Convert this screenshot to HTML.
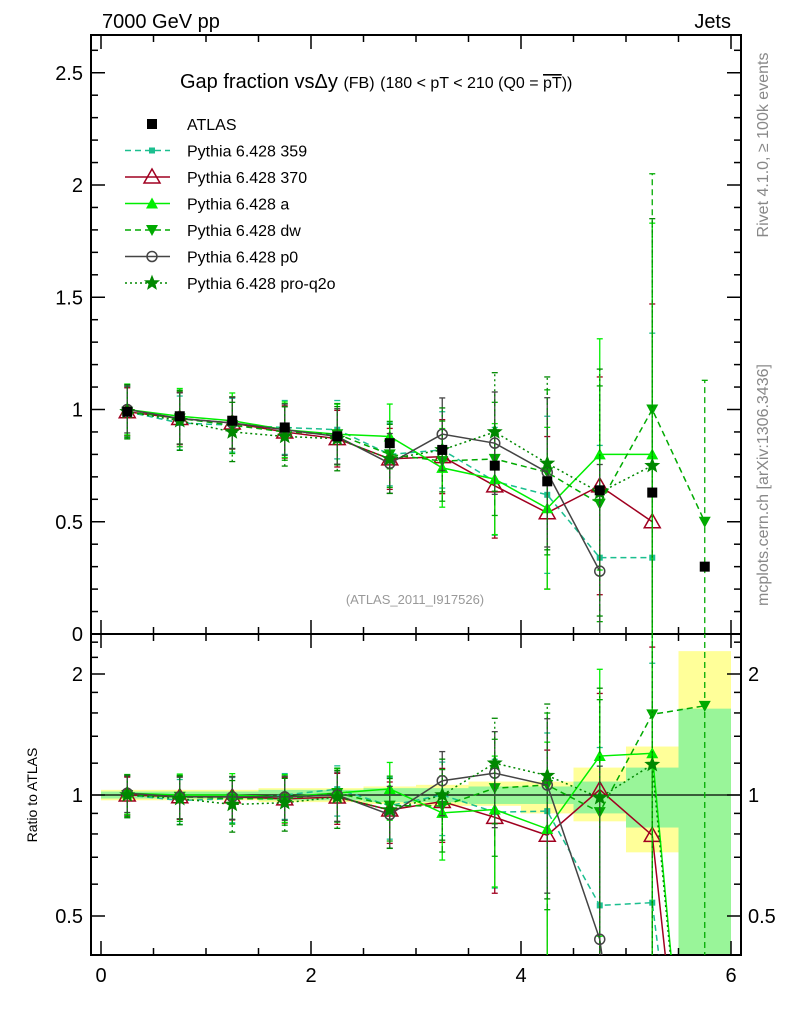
<!DOCTYPE html>
<html><head><meta charset="utf-8"><style>
html,body{margin:0;background:#fff;overflow:hidden;width:786px;height:1024px}
svg{display:block;font-family:"Liberation Sans",sans-serif}
</style></head><body>
<svg id="c" width="786" height="1024" viewBox="0 0 786 1024">
<defs>
<clipPath id="cm"><rect x="91" y="35" width="650" height="599"/></clipPath>
<clipPath id="cr"><rect x="91" y="634" width="650" height="321"/></clipPath>
</defs>
<text x="102" y="28" font-size="20">7000 GeV pp</text>
<text x="731" y="28" font-size="20" text-anchor="end">Jets</text>
<text x="180" y="88" font-size="20">Gap fraction vs<tspan>Δy</tspan> <tspan font-size="16">(FB)</tspan> <tspan font-size="16">(180 &lt; pT &lt; 210 (Q0 = <tspan text-decoration="overline">pT</tspan>))</tspan></text>
<text x="415" y="604" font-size="13" fill="#999" text-anchor="middle">(ATLAS_2011_I917526)</text>
<text transform="translate(768,145) rotate(-90)" font-size="16" fill="#888" text-anchor="middle">Rivet 4.1.0, ≥ 100k events</text>
<text transform="translate(768,485) rotate(-90)" font-size="16" fill="#888" text-anchor="middle">mcplots.cern.ch [arXiv:1306.3436]</text>
<text transform="translate(37,795) rotate(-90)" font-size="14" text-anchor="middle">Ratio to ATLAS</text>
<g id="bands" clip-path="url(#cr)"></g>
<g id="axes"></g>
<g id="main" clip-path="url(#cm)"></g>
<g id="ratio" clip-path="url(#cr)"></g>
<g id="legend"></g>
</svg>
<script>
const xs=[0.25,0.75,1.25,1.75,2.25,2.75,3.25,3.75,4.25,4.75,5.25,5.75];
const atlas=[0.99,0.97,0.95,0.92,0.88,0.85,0.82,0.75,0.68,0.64,0.63,0.30];
const s359=[0.99,0.94,0.93,0.92,0.91,0.80,0.82,0.68,0.62,0.34,0.34,0];
const s370=[0.99,0.96,0.94,0.90,0.87,0.78,0.79,0.66,0.54,0.66,0.50,0];
const sA=[1.0,0.97,0.95,0.91,0.89,0.88,0.74,0.69,0.56,0.80,0.80,0];
const sDW=[0.99,0.96,0.93,0.90,0.89,0.80,0.77,0.78,0.72,0.58,1.00,0.50];
const sP0=[1.0,0.96,0.94,0.91,0.88,0.76,0.89,0.85,0.72,0.28,0,0];
const sPQ=[0.99,0.95,0.90,0.88,0.87,0.78,0.82,0.90,0.76,0.63,0.75,0];
const errs=[0.11,0.12,0.12,0.12,0.13,0.14,0.17,0.24,0.35,0.5,1.0,0.6];
const bandYUp=[0.03,0.03,0.03,0.04,0.04,0.05,0.06,0.08,0.08,0.17,0.32,1.28];
const bandYDn=[0.03,0.03,0.03,0.04,0.04,0.05,0.06,0.06,0.10,0.14,0.28,0.9];
const bandGUp=[0.02,0.02,0.02,0.03,0.03,0.04,0.04,0.05,0.05,0.08,0.17,0.64];
const bandGDn=[0.02,0.02,0.02,0.03,0.03,0.04,0.04,0.05,0.05,0.10,0.17,0.9];
const yTicksMain=[0,0.5,1,1.5,2,2.5];
const yTicksRatio=[0.5,1,2];
const xTicks=[0,2,4,6];

const NS="http://www.w3.org/2000/svg";
const X=v=>101+105*v, YM=v=>634-224.5*v, YR=r=>795-121*Math.log2(r);
function mk(p,t,a){const e=document.createElementNS(NS,t);for(const k in a)e.setAttribute(k,a[k]);p.appendChild(e);return e;}
const ax=document.getElementById('axes'),gm=document.getElementById('main'),gr=document.getElementById('ratio'),gb=document.getElementById('bands'),gl=document.getElementById('legend');

xs.forEach((x,i)=>{
 const yt=YR(1+bandYUp[i]),yb=YR(Math.max(1-bandYDn[i],0.05));
 let r=mk(gb,'rect',{x:X(x-0.25),width:52.5,y:yt,height:yb-yt,fill:'#ffff99'});
 
 
 const gt=YR(1+bandGUp[i]),gbm=YR(Math.max(1-bandGDn[i],0.05));
 let g=mk(gb,'rect',{x:X(x-0.25),width:52.5,y:gt,height:gbm-gt,fill:'#99f599'});
 
 
});
mk(ax,'line',{x1:91,x2:741,y1:YR(1),y2:YR(1),stroke:'#000','stroke-width':1.2});

mk(ax,'rect',{x:91,y:35,width:650,height:599,fill:'none',stroke:'#000','stroke-width':2});
mk(ax,'rect',{x:91,y:634,width:650,height:321,fill:'none',stroke:'#000','stroke-width':2});
for(let v=0;v<=6.01;v+=0.5){const maj=Math.abs(v-Math.round(v/2)*2)<0.01;
 [[634,-1],[955,-1],[634,1]].forEach(([y,d])=>mk(ax,'line',{x1:X(v),x2:X(v),y1:y,y2:y+d*(maj?14:7),stroke:'#000','stroke-width':1.5}));
 mk(ax,'line',{x1:X(v),x2:X(v),y1:35,y2:35+(maj?14:7),stroke:'#000','stroke-width':1.5});}
xTicks.forEach(v=>{const t=mk(ax,'text',{x:X(v),y:982,'font-size':20,'text-anchor':'middle'});t.textContent=v;
 
 });
for(let v=0;v<=2.65;v+=0.1){const maj=Math.abs(v*2-Math.round(v*2))<0.01;
 mk(ax,'line',{x1:91,x2:91+(maj?14:7),y1:YM(v),y2:YM(v),stroke:'#000','stroke-width':1.5});
 mk(ax,'line',{x1:741,x2:741-(maj?14:7),y1:YM(v),y2:YM(v),stroke:'#000','stroke-width':1.5});}
yTicksMain.forEach(v=>{const t=mk(ax,'text',{x:83,y:YM(v)+7,'font-size':20,'text-anchor':'end'});t.textContent=v;
 
 });
[0.4,0.5,0.6,0.7,0.8,0.9,1,1.2,1.4,1.6,1.8,2,2.2,2.4].forEach(v=>{const maj=[0.5,1,2].includes(v);
 if(YR(v)<636||YR(v)>953)return;
 mk(ax,'line',{x1:91,x2:91+(maj?14:7),y1:YR(v),y2:YR(v),stroke:'#000','stroke-width':1.5});
 mk(ax,'line',{x1:741,x2:741-(maj?14:7),y1:YR(v),y2:YR(v),stroke:'#000','stroke-width':1.5});});
yTicksRatio.forEach(v=>{const t=mk(ax,'text',{x:83,y:YR(v)+7,'font-size':20,'text-anchor':'end'});t.textContent=v;
 
 
 const t2=mk(ax,'text',{x:748,y:YR(v)+7,'font-size':20});t2.textContent=v;
 
 });

function marker(p,type,cx,cy,col,sc){sc=sc||1;let e;
 if(type==='sq')e=mk(p,'rect',{x:cx-5*sc,y:cy-5*sc,width:10*sc,height:10*sc,fill:col});
 else if(type==='tri')e=mk(p,'polygon',{points:`${cx},${cy-8} ${cx-8},${cy+6} ${cx+8},${cy+6}`,fill:'#fff','fill-opacity':0,stroke:col,'stroke-width':1.5});
 else if(type==='ftri')e=mk(p,'polygon',{points:`${cx},${cy-6} ${cx-6},${cy+5} ${cx+6},${cy+5}`,fill:col});
 else if(type==='dtri')e=mk(p,'polygon',{points:`${cx},${cy+6} ${cx-6},${cy-5} ${cx+6},${cy-5}`,fill:col});
 else if(type==='circ')e=mk(p,'circle',{cx:cx,cy:cy,r:5,fill:'none',stroke:col,'stroke-width':1.5});
 else {let pts=[];for(let k=0;k<10;k++){const r=k%2?3:7,a=-Math.PI/2+k*Math.PI/5;pts.push((cx+r*Math.cos(a)).toFixed(1)+','+(cy+r*Math.sin(a)).toFixed(1));}
  e=mk(p,'polygon',{points:pts.join(' '),fill:col,stroke:col,'stroke-width':1});}
 return e;}

const series=[
 {name:'Pythia 6.428 359',vals:s359,col:'#1bbf8f',dash:'6,4',m:'sq',sc:0.6,ef:1.0},
 {name:'Pythia 6.428 370',vals:s370,col:'#a00020',dash:'',m:'tri',ef:0.97},
 {name:'Pythia 6.428 a',vals:sA,col:'#00ee00',dash:'',m:'ftri',ef:1.03},
 {name:'Pythia 6.428 dw',vals:sDW,col:'#00aa00',dash:'6,4',m:'dtri',ef:1.05},
 {name:'Pythia 6.428 p0',vals:sP0,col:'#444444',dash:'',m:'circ',ef:0.95},
 {name:'Pythia 6.428 pro-q2o',vals:sPQ,col:'#008800',dash:'2,3',m:'star',ef:1.1}];

series.forEach(s=>{
 const slug=s.name.split(' ').pop();
 let pts=[];xs.forEach((x,i)=>{if(s.vals[i]>0)pts.push(X(x)+','+YM(s.vals[i]));});
 const pl=mk(gm,'polyline',{points:pts.join(' '),fill:'none',stroke:s.col,'stroke-width':1.5,'stroke-dasharray':s.dash});
 
 
 xs.forEach((x,i)=>{const v=s.vals[i];if(!(v>0))return;const e=errs[i]*s.ef;
  mk(gm,'line',{x1:X(x),x2:X(x),y1:YM(v-e),y2:YM(v+e),stroke:s.col,'stroke-width':1.3,'stroke-dasharray':s.dash});
  mk(gm,'line',{x1:X(x)-3,x2:X(x)+3,y1:YM(v+e),y2:YM(v+e),stroke:s.col,'stroke-width':1.3});
  mk(gm,'line',{x1:X(x)-3,x2:X(x)+3,y1:YM(v-e),y2:YM(v-e),stroke:s.col,'stroke-width':1.3});
  const mm=marker(gm,s.m,X(x),YM(v),s.col,s.sc);
  
  });
 let rp=[];xs.forEach((x,i)=>{const r=s.vals[i]/atlas[i];rp.push(X(x)+','+YR(Math.max(r,0.05)));});
 const rl=mk(gr,'polyline',{points:rp.join(' '),fill:'none',stroke:s.col,'stroke-width':1.5,'stroke-dasharray':s.dash});
 
 
 xs.forEach((x,i)=>{const v=s.vals[i];if(!(v>0))return;const r=v/atlas[i],e=errs[i]*s.ef/atlas[i];
  mk(gr,'line',{x1:X(x),x2:X(x),y1:YR(Math.max(r-e,0.05)),y2:YR(r+e),stroke:s.col,'stroke-width':1.3,'stroke-dasharray':s.dash});
  mk(gr,'line',{x1:X(x)-3,x2:X(x)+3,y1:YR(r+e),y2:YR(r+e),stroke:s.col,'stroke-width':1.3});
  if(r-e>0.05)mk(gr,'line',{x1:X(x)-3,x2:X(x)+3,y1:YR(r-e),y2:YR(r-e),stroke:s.col,'stroke-width':1.3});
  const mm=marker(gr,s.m,X(x),YR(r),s.col,s.sc);
  
  });
});
xs.forEach((x,i)=>{const a=atlas[i];
 mk(gm,'line',{x1:X(x),x2:X(x),y1:YM(a-0.015),y2:YM(a+0.015),stroke:'#000','stroke-width':1.5});
 const m=marker(gm,'sq',X(x),YM(a),'#000');
 
 });

const items=[{name:'ATLAS',col:'#000',m:'sq',dash:null}].concat(series);
items.forEach((s,k)=>{const y=124+26.5*k;const g=mk(gl,'g',{});
 
 
 if(s.dash!==null)mk(g,'line',{x1:125,x2:170,y1:y,y2:y,stroke:s.col,'stroke-width':1.5,'stroke-dasharray':s.dash});
 marker(g,s.m,152,y,s.col,s.sc);
 const t=mk(g,'text',{x:187,y:y+6,'font-size':16});t.textContent=s.name;});
</script>
</body></html>
